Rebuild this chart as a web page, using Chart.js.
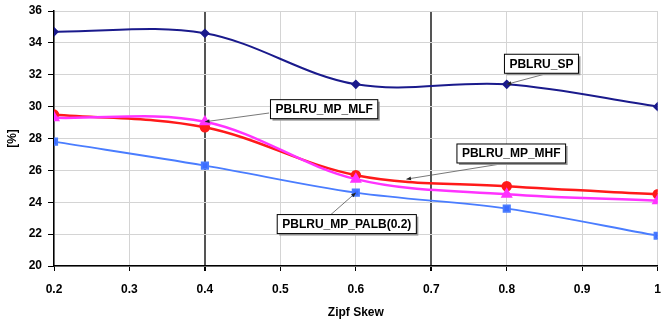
<!DOCTYPE html>
<html>
<head>
<meta charset="utf-8">
<script src="https://cdn.jsdelivr.net/npm/chart.js@4"></script>
<style>
  html, body { margin: 0; padding: 0; background: #fff; }
  #wrap { width: 672px; height: 321px; }
</style>
</head>
<body>
<div id="wrap"><canvas id="chart" width="672" height="321"></canvas></div>
<script>
// données
const skew = [0.2, 0.4, 0.6, 0.8, 1.0];
const sp = [34.7, 34.6, 31.4, 31.4, 30.0];
const mhf = [29.5, 28.7, 25.7, 25.0, 24.5];
const mlf = [29.3, 29.05, 25.45, 24.5, 24.1];
const palb = [27.8, 26.3, 24.6, 23.6, 21.9];

// étiquettes avec flèche (coordonnées en unités des axes)
const labels = [
  { text: 'PBLRU_SP', bx: 0.846, by: 32.69, fx: 0.855, fy: 32.1, tx: 0.8, ty: 31.4 },
  { text: 'PBLRU_MP_MLF', bx: 0.558, by: 29.84, fx: 0.485, fy: 29.6, tx: 0.4, ty: 29.05 },
  { text: 'PBLRU_MP_MHF', bx: 0.806, by: 27.06, fx: 0.797, fy: 26.44, tx: 0.667, ty: 25.45 },
  { text: 'PBLRU_MP_PALB(0.2)', bx: 0.588, by: 22.63, fx: 0.566, fy: 23.19, tx: 0.6, ty: 24.6 }
];

function pts(values) {
  return skew.map((x, i) => ({ x: x, y: values[i] }));
}

// plugin pour dessiner les boîtes et les flèches
const calloutPlugin = {
  id: 'callouts',
  afterDatasetsDraw(chart) {
    const ctx = chart.ctx;
    const xs = chart.scales.x, ys = chart.scales.y;
    ctx.save();
    ctx.font = 'bold 12px Arial, "Liberation Sans", sans-serif';
    labels.forEach(l => {
      const x0 = xs.getPixelForValue(l.fx), y0 = ys.getPixelForValue(l.fy);
      const x1 = xs.getPixelForValue(l.tx), y1 = ys.getPixelForValue(l.ty);
      ctx.strokeStyle = '#555';
      ctx.lineWidth = 0.8;
      ctx.beginPath();
      ctx.moveTo(x0, y0);
      ctx.lineTo(x1, y1);
      ctx.stroke();
      const a = Math.atan2(y1 - y0, x1 - x0);
      ctx.fillStyle = '#222';
      ctx.beginPath();
      ctx.moveTo(x1, y1);
      ctx.lineTo(x1 - 5 * Math.cos(a - 0.4), y1 - 5 * Math.sin(a - 0.4));
      ctx.lineTo(x1 - 5 * Math.cos(a + 0.4), y1 - 5 * Math.sin(a + 0.4));
      ctx.closePath();
      ctx.fill();

      const cx = xs.getPixelForValue(l.bx), cy = ys.getPixelForValue(l.by);
      const w = ctx.measureText(l.text).width + 10, h = 19;
      ctx.fillStyle = '#999';
      ctx.fillRect(cx - w / 2 + 2, cy - h / 2 + 2, w, h);
      ctx.fillStyle = '#fff';
      ctx.fillRect(cx - w / 2, cy - h / 2, w, h);
      ctx.strokeStyle = '#000';
      ctx.lineWidth = 1;
      ctx.strokeRect(cx - w / 2, cy - h / 2, w, h);
      ctx.fillStyle = '#000';
      ctx.textAlign = 'center';
      ctx.textBaseline = 'middle';
      ctx.fillText(l.text, cx, cy + 0.5);
    });
    ctx.restore();
  }
};

const font = { family: 'Arial, "Liberation Sans", sans-serif', size: 12, weight: 'bold' };

new Chart(document.getElementById('chart'), {
  type: 'line',
  data: {
    datasets: [
      { label: 'PBLRU_SP', data: pts(sp), borderColor: '#1a1a8c', backgroundColor: '#1a1a8c',
        pointStyle: 'rectRot', pointRadius: 3.5, borderWidth: 2 },
      { label: 'PBLRU_MP_MLF', data: pts(mlf), borderColor: '#ff33ff', backgroundColor: '#ff33ff',
        pointStyle: 'triangle', pointRadius: 4.5, borderWidth: 2.5 },
      { label: 'PBLRU_MP_MHF', data: pts(mhf), borderColor: '#ff1a1a', backgroundColor: '#ff1a1a',
        pointStyle: 'circle', pointRadius: 4, borderWidth: 2.5 },
      { label: 'PBLRU_MP_PALB(0.2)', data: pts(palb), borderColor: '#4a7dff', backgroundColor: '#3b6cff',
        pointStyle: 'rect', pointRadius: 4.5, borderWidth: 1.8 }
    ]
  },
  options: {
    responsive: false,
    animation: false,
    layout: { padding: { left: 5, right: 14, top: 11, bottom: 0 } },
    elements: { line: { tension: 0.35 } },
    plugins: { legend: { display: false }, tooltip: { enabled: false } },
    scales: {
      x: {
        type: 'linear', min: 0.2, max: 1,
        afterFit: s => { s.height = 55; },
        ticks: { stepSize: 0.1, color: '#000', font: font, padding: 11,
          callback: v => Math.round(v * 10) / 10 },
        grid: {
          color: c => (Math.abs(c.tick.value - 0.4) < 1e-6 || Math.abs(c.tick.value - 0.7) < 1e-6) ? '#555' : '#d4d4d4',
          lineWidth: c => (Math.abs(c.tick.value - 0.4) < 1e-6 || Math.abs(c.tick.value - 0.7) < 1e-6) ? 2 : 1,
          tickColor: '#000', tickLength: 5
        },
        border: { color: '#000', width: 1.5 },
        title: { display: true, text: 'Zipf Skew', color: '#000', font: font, padding: { top: 4, bottom: 1 } }
      },
      y: {
        min: 20, max: 36,
        afterFit: s => { s.width = 49; s.paddingTop = 0; s.paddingBottom = 0; },
        ticks: { stepSize: 2, color: '#000', font: font, padding: 6 },
        grid: { color: '#d4d4d4', tickColor: '#000', tickLength: 6 },
        border: { color: '#000', width: 1.5 },
        title: { display: true, text: '[%]', color: '#000', font: font, padding: { top: 0, bottom: 0 } }
      }
    }
  },
  plugins: [calloutPlugin]
});
</script>
</body>
</html>
